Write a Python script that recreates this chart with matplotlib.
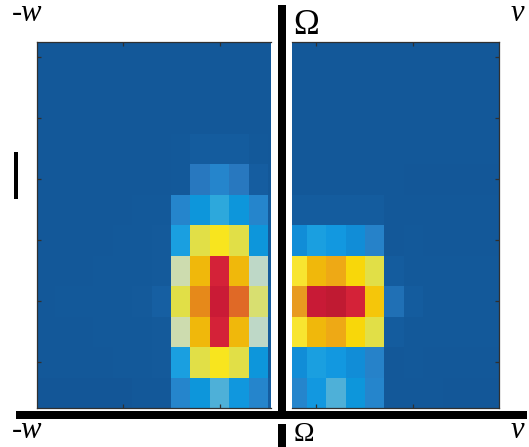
import numpy as np
import matplotlib
matplotlib.use("Agg")
import matplotlib.pyplot as plt
from matplotlib.colors import LinearSegmentedColormap
from matplotlib.patches import Rectangle

# ---- data (cell values, 0 = dark blue, 1 = deep red) ----
left_vals = np.array([
    [0.04, 0.04, 0.04, 0.04, 0.04, 0.04, 0.04, 0.04, 0.04, 0.04, 0.04, 0.04, 0.04],
    [0.04, 0.04, 0.04, 0.04, 0.04, 0.04, 0.04, 0.04, 0.04, 0.04, 0.04, 0.04, 0.04],
    [0.04, 0.04, 0.04, 0.04, 0.04, 0.04, 0.04, 0.04, 0.04, 0.04, 0.04, 0.04, 0.04],
    [0.04, 0.04, 0.04, 0.04, 0.04, 0.04, 0.04, 0.045, 0.055, 0.055, 0.055, 0.045, 0.04],
    [0.04, 0.04, 0.04, 0.04, 0.04, 0.04, 0.04, 0.045, 0.15, 0.20, 0.15, 0.06, 0.04],
    [0.04, 0.04, 0.04, 0.04, 0.04, 0.045, 0.045, 0.20, 0.26, 0.35, 0.26, 0.20, 0.05],
    [0.04, 0.04, 0.04, 0.04, 0.045, 0.045, 0.05, 0.32, 0.54, 0.60, 0.54, 0.26, 0.05],
    [0.04, 0.04, 0.04, 0.045, 0.045, 0.045, 0.05, 0.47, 0.68, 0.92, 0.68, 0.45, 0.05],
    [0.04, 0.045, 0.045, 0.045, 0.045, 0.05, 0.07, 0.54, 0.79, 0.95, 0.84, 0.51, 0.06],
    [0.04, 0.04, 0.04, 0.045, 0.045, 0.045, 0.05, 0.47, 0.68, 0.92, 0.68, 0.45, 0.05],
    [0.04, 0.04, 0.04, 0.04, 0.045, 0.045, 0.05, 0.32, 0.54, 0.60, 0.54, 0.26, 0.05],
    [0.035, 0.035, 0.035, 0.035, 0.035, 0.04, 0.04, 0.20, 0.26, 0.38, 0.27, 0.20, 0.06],
])

right_vals = np.array([
    [0.04, 0.04, 0.04, 0.04, 0.04, 0.04, 0.04, 0.04, 0.04, 0.04, 0.04],
    [0.04, 0.04, 0.04, 0.04, 0.04, 0.04, 0.04, 0.04, 0.04, 0.04, 0.04],
    [0.04, 0.04, 0.04, 0.04, 0.04, 0.04, 0.04, 0.04, 0.04, 0.04, 0.04],
    [0.04, 0.04, 0.04, 0.04, 0.04, 0.04, 0.04, 0.04, 0.04, 0.04, 0.04],
    [0.04, 0.04, 0.04, 0.04, 0.04, 0.04, 0.037, 0.037, 0.037, 0.037, 0.037],
    [0.055, 0.055, 0.055, 0.055, 0.055, 0.04, 0.04, 0.04, 0.04, 0.04, 0.04],
    [0.23, 0.32, 0.28, 0.23, 0.19, 0.04, 0.045, 0.04, 0.04, 0.04, 0.04],
    [0.585, 0.68, 0.72, 0.63, 0.54, 0.055, 0.045, 0.045, 0.045, 0.045, 0.045],
    [0.76, 0.96, 1.00, 0.92, 0.66, 0.13, 0.055, 0.045, 0.045, 0.045, 0.045],
    [0.585, 0.68, 0.72, 0.63, 0.54, 0.055, 0.045, 0.045, 0.045, 0.045, 0.045],
    [0.23, 0.32, 0.28, 0.23, 0.19, 0.04, 0.045, 0.04, 0.04, 0.04, 0.04],
    [0.20, 0.28, 0.38, 0.26, 0.20, 0.04, 0.04, 0.04, 0.037, 0.037, 0.037],
])

# colour scale (blue -> cyan -> yellow -> red)
cmap_pos = [0.00, 0.04, 0.06, 0.13, 0.15, 0.20, 0.23, 0.26, 0.28, 0.32, 0.35, 0.38,
            0.45, 0.47, 0.51, 0.54, 0.585, 0.60, 0.63, 0.66, 0.68, 0.72, 0.76, 0.79,
            0.84, 0.92, 0.96, 1.00]
cmap_hex = ['#114f8e', '#135899', '#155da0', '#2070b5', '#2878bf', '#2585cc', '#0f8ed8',
            '#0d96db', '#1298e0', '#1a9fe0', '#2ea8dc', '#4db0d8', '#bdd8c8', '#cddcb0',
            '#d8df70', '#e0df48', '#f8e530', '#f8e51e', '#f8d80a', '#f5c50a', '#f0b90a',
            '#eeaa15', '#e89a20', '#e68a1a', '#e06c25', '#d42238', '#c81a36', '#c01a32']
cmap = LinearSegmentedColormap.from_list("heat", list(zip(cmap_pos, cmap_hex)))

axis_labels = ["-w", "v", "\u03a9"]

# ---- figure ----
W, H = 529, 447
fig = plt.figure(figsize=(W / 100, H / 100), dpi=100)


def px_box(x0, y0, x1, y1):
    # pixel box (top-left origin) -> figure fraction rect
    return [x0 / W, 1 - y1 / H, (x1 - x0) / W, (y1 - y0) / H]


ax_l = fig.add_axes(px_box(37, 42, 271, 408))
ax_r = fig.add_axes(px_box(292, 42, 499, 408))

for ax, vals, xlim, xt, side in [(ax_l, left_vals, (0.09, 12.15), [4.5, 9.5], "left"),
                                  (ax_r, right_vals, (0.24, 10.91), [1.5, 6.5], "right")]:
    nr, nc = vals.shape
    ax.pcolormesh(np.arange(nc + 1), np.arange(nr + 1), vals, cmap=cmap, vmin=0, vmax=1,
                  antialiased=False, edgecolors="none")
    ax.set_xlim(*xlim)
    ax.set_ylim(nr, 0)
    ax.set_xticks(xt)
    ax.set_yticks(np.arange(0.5, nr, 2))
    ax.tick_params(direction="in", length=3, width=0.9, color="#303030",
                   labelbottom=False, labelleft=False, labeltop=False, labelright=False,
                   top=True, bottom=True, left=(side == "left"), right=(side == "right"))
    for s in ax.spines.values():
        s.set_color("#303030")
        s.set_linewidth(0.9)
    ax.spines["right" if side == "left" else "left"].set_visible(False)

# thick black axis bars
bars = [(278, 5, 286, 411), (16, 410.5, 527, 418.5), (278, 424, 286, 447), (14, 152, 18, 199)]
for x0, y0, x1, y1 in bars:
    b = px_box(x0, y0, x1, y1)
    fig.add_artist(Rectangle((b[0], b[1]), b[2], b[3], transform=fig.transFigure,
                             facecolor="black", edgecolor="none"))

# labels
lab_font = dict(family="Liberation Serif", ha="left", va="baseline")
fig.text(12 / W, 1 - 21 / H, axis_labels[0], fontsize=22, style="italic", **lab_font)
fig.text(12 / W, 1 - 438 / H, axis_labels[0], fontsize=22, style="italic", **lab_font)
fig.text(511 / W, 1 - 21 / H, axis_labels[1], fontsize=22, style="italic", **lab_font)
fig.text(511 / W, 1 - 438 / H, axis_labels[1], fontsize=22, style="italic", **lab_font)
fig.text(293 / W, 1 - 34 / H, axis_labels[2], fontsize=25, **lab_font)
fig.text(294 / W, 1 - 441 / H, axis_labels[2], fontsize=20, **lab_font)

fig.savefig("out.png", dpi=100)
